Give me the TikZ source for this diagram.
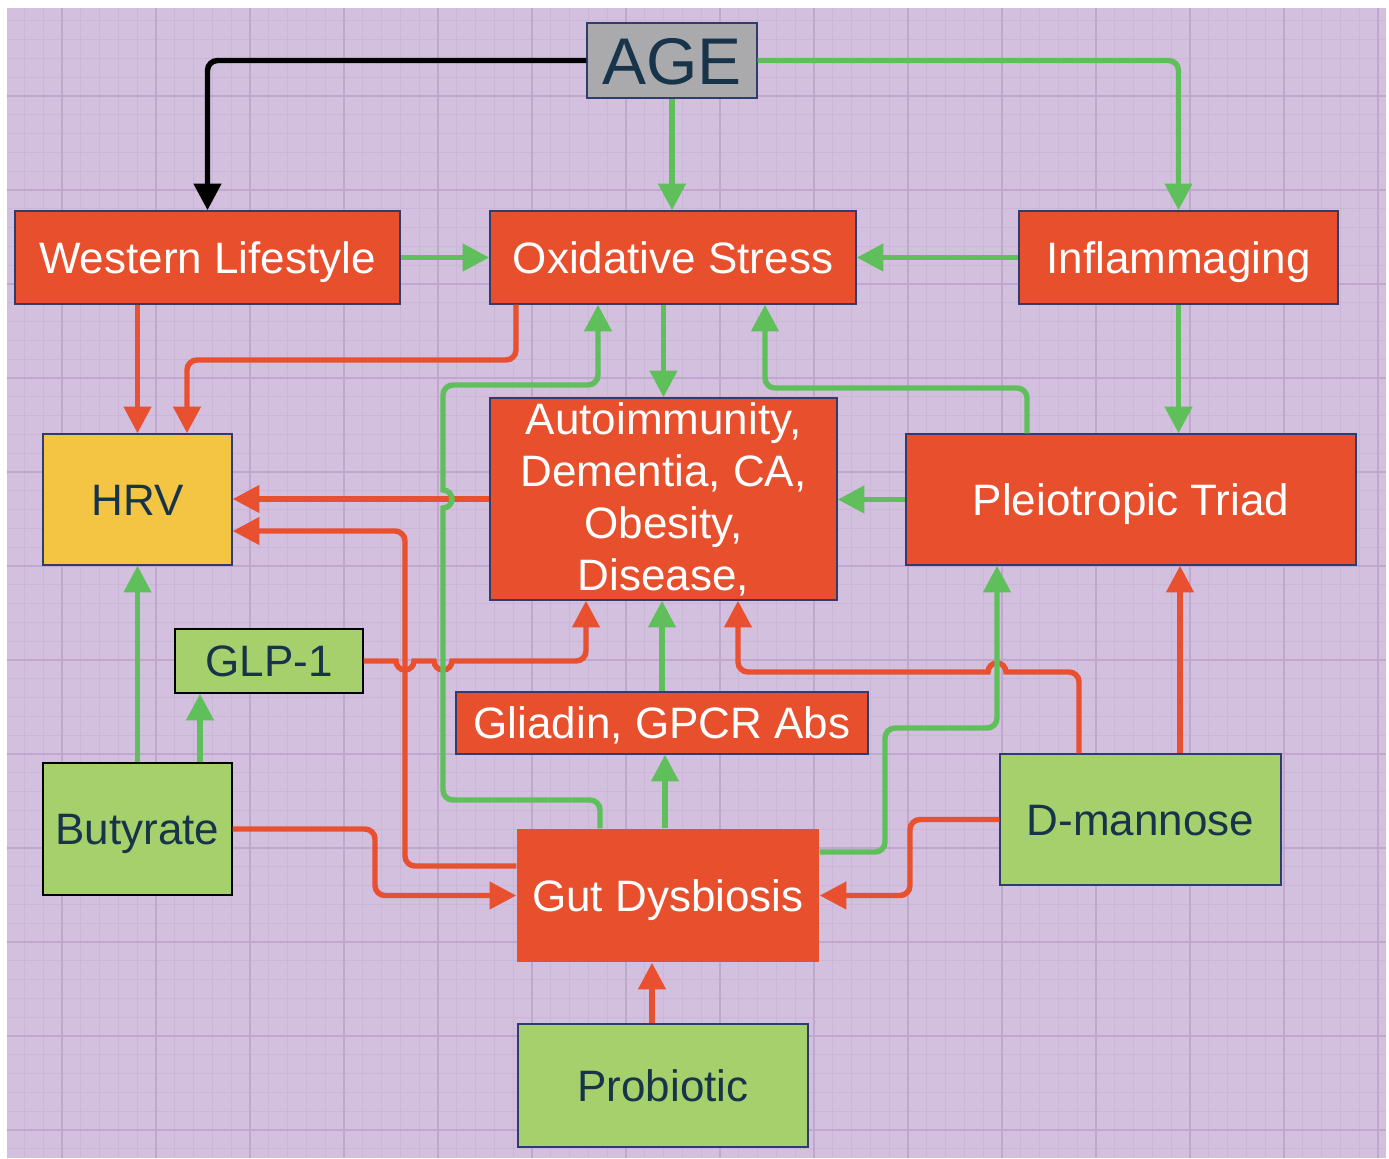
\documentclass[tikz,border=0pt]{standalone}
\usepackage{fontspec}
\setmainfont{Liberation Sans}
\usetikzlibrary{arrows.meta}

\definecolor{bgpurple}{RGB}{211,191,222}
\definecolor{minorline}{RGB}{203,182,215}
\definecolor{majorline}{RGB}{191,167,206}
\definecolor{boxred}{RGB}{232,79,45}
\definecolor{boxgreen}{RGB}{166,208,108}
\definecolor{boxyellow}{RGB}{244,196,67}
\definecolor{boxgrey}{RGB}{170,170,172}
\definecolor{boxnavy}{RGB}{48,60,110}
\definecolor{textnavy}{RGB}{24,52,74}
\definecolor{linkgreen}{RGB}{95,191,90}
\definecolor{linkred}{RGB}{232,80,48}

\tikzset{every picture/.style={line width=0.75pt}}
\tikzset{
  minorgrid/.style={draw=minorline, line width=0.5pt},
  majorgrid/.style={draw=majorline, line width=0.9pt},
  box/.style={draw=boxnavy, line width=1.1pt, inner sep=0pt, align=center, font=\fontsize{33}{39}\selectfont},
  oneline/.style={text height=23.6pt, text depth=0pt},
  size/.style 2 args={minimum width=#1, minimum height=#2},
  redbox/.style={box, fill=boxred, text=white},
  greenbox/.style={box, fill=boxgreen, text=textnavy},
  yellowbox/.style={box, fill=boxyellow, text=textnavy},
  greybox/.style={box, fill=boxgrey, text=textnavy},
  link/.style={line width=4.1pt, rounded corners=7.5pt, -{Triangle[length=20pt,width=20pt]}},
  greenlink/.style={link, draw=linkgreen},
  redlink/.style={link, draw=linkred},
  blacklink/.style={link, draw=black},
}

\begin{document}
\begin{tikzpicture}[x=0.75pt,y=0.75pt,yscale=-1,xscale=1]
\useasboundingbox (0,0) rectangle (1389,1158);

%Shape: Background with grid
\fill[white] (0,0) rectangle (1389,1158);
\fill[bgpurple] (7,8) rectangle (1386,1158);
\foreach \i in {1,...,73} \draw[minorgrid] ({5.6+18.8*\i},8) -- ({5.6+18.8*\i},1158);
\foreach \j in {0,...,60} \draw[minorgrid] (7,{20.8+18.8*\j}) -- (1386,{20.8+18.8*\j});
\foreach \i in {0,...,14} \draw[majorgrid] ({62+94*\i},8) -- ({62+94*\i},1158);
\foreach \j in {0,...,11} \draw[majorgrid] (7,{96+94*\j}) -- (1386,{96+94*\j});

%Shape: Rectangle
\node[greybox, size={127.5pt}{56.25pt}, text height=35.4pt, text depth=0pt, font=\fontsize{49.5}{59}\selectfont] (age) at (672,60.5) {AGE};
%Shape: Rectangle
\node[redbox, oneline, size={288.75pt}{69.75pt}] (west) at (207.5,257.5) {Western Lifestyle};
%Shape: Rectangle
\node[redbox, oneline, size={274.5pt}{69.75pt}] (ox) at (673,257.5) {Oxidative Stress};
%Shape: Rectangle
\node[redbox, oneline, size={239.25pt}{69.75pt}] (infl) at (1178.5,257.5) {Inflammaging};
%Shape: Rectangle
\node[yellowbox, oneline, size={141.75pt}{98.25pt}] (hrv) at (137.5,499.5) {HRV};
%Shape: Rectangle
\node[redbox, size={260.25pt}{151.5pt}] (disease) at (663.5,499) {Autoimmunity,\\Dementia, CA,\\Obesity,\\Disease,};
%Shape: Rectangle
\node[redbox, oneline, size={337.5pt}{98.25pt}] (triad) at (1131,499.5) {Pleiotropic Triad};
%Shape: Rectangle
\node[greenbox, oneline, draw=black, size={141pt}{48pt}] (glp) at (269,661) {GLP-1};
%Shape: Rectangle
\node[redbox, oneline, size={309pt}{46.5pt}] (gliadin) at (662,723) {Gliadin, GPCR Abs};
%Shape: Rectangle
\node[greenbox, oneline, draw=black, size={141.75pt}{99pt}] (butyrate) at (137.5,829) {Butyrate};
%Shape: Rectangle
\node[greenbox, oneline, size={210.75pt}{98.25pt}] (mannose) at (1140.5,819.5) {D-mannose};
%Shape: Rectangle
\node[redbox, oneline, draw=none, size={226.5pt}{99.75pt}] (gut) at (668,895.5) {Gut Dysbiosis};
%Shape: Rectangle
\node[greenbox, oneline, size={217.5pt}{92.25pt}] (probiotic) at (663,1085.5) {Probiotic};

%Straight Lines
\draw[blacklink] (age.west) -| (west.north);
\draw[greenlink] (age.east) -| (infl.north);
\draw[greenlink] (age.south) -- (age.south |- ox.north);
\draw[greenlink] (west.east) -- (ox.west);
\draw[greenlink] (infl.west) -- (ox.east);
\draw[redlink] (west.south -| hrv.north) -- (hrv.north);
\draw[redlink] (ox.south -| 516,0) |- (187,360) -- (hrv.north -| 187,0);
\draw[greenlink] (ox.south -| disease.north) -- (disease.north);
\draw[greenlink] (infl.south) -- (infl.south |- triad.north);
\draw[greenlink] (triad.north -| 1027,0) |- (765,388) -- (ox.south -| 765,0);
\draw[greenlink] (triad.west) -- (triad.west -| disease.east);
\draw[redlink] (disease.west) -- (disease.west -| hrv.east);
\draw[redlink] (gut.west |- 0,866) -| (405,531) -- (hrv.east |- 0,531);
\draw[greenlink] (butyrate.north) -- (hrv.south);
\draw[greenlink] (butyrate.north -| 200,0) -- (glp.south -| 200,0);
%Lines with hops
\draw[redlink, sharp corners] (glp.east) -- (396,661) arc[start angle=180,end angle=0,radius=9] -- (434,661) arc[start angle=180,end angle=0,radius=9] -- (540,661) [rounded corners=7.5pt] -- (586,661) -- (disease.south -| 586,0);
\draw[greenlink] (gut.north -| 600,0) |- (443,800) -- (443,560) [sharp corners] -- (443,508) arc[start angle=90,end angle=-90,radius=9] -- (443,440) [rounded corners=7.5pt] -- (443,385) -| (ox.south -| 598,0);
\draw[greenlink] (gut.north -| 665,0) -- (gliadin.south -| 665,0);
\draw[greenlink] (gliadin.north) -- (disease.south -| gliadin.north);
\draw[redlink] (mannose.north -| 1079,0) |- (1040,672) [sharp corners] -- (1006,672) arc[start angle=0,end angle=-180,radius=9] -- (950,672) [rounded corners=7.5pt] -| (disease.south -| 738,0);
\draw[redlink] (mannose.north -| 1180,0) -- (triad.south -| 1180,0);
\draw[greenlink] (gut.east |- 0,852) -| (885,728) -| (triad.south -| 997,0);
\draw[redlink] (mannose.west) -| (910,895.5) -- (gut.east);
\draw[redlink] (butyrate.east) -| (375,895.5) -- (gut.west);
\draw[redlink] (probiotic.north -| 652,0) -- (gut.south -| 652,0);

\end{tikzpicture}
\end{document}
